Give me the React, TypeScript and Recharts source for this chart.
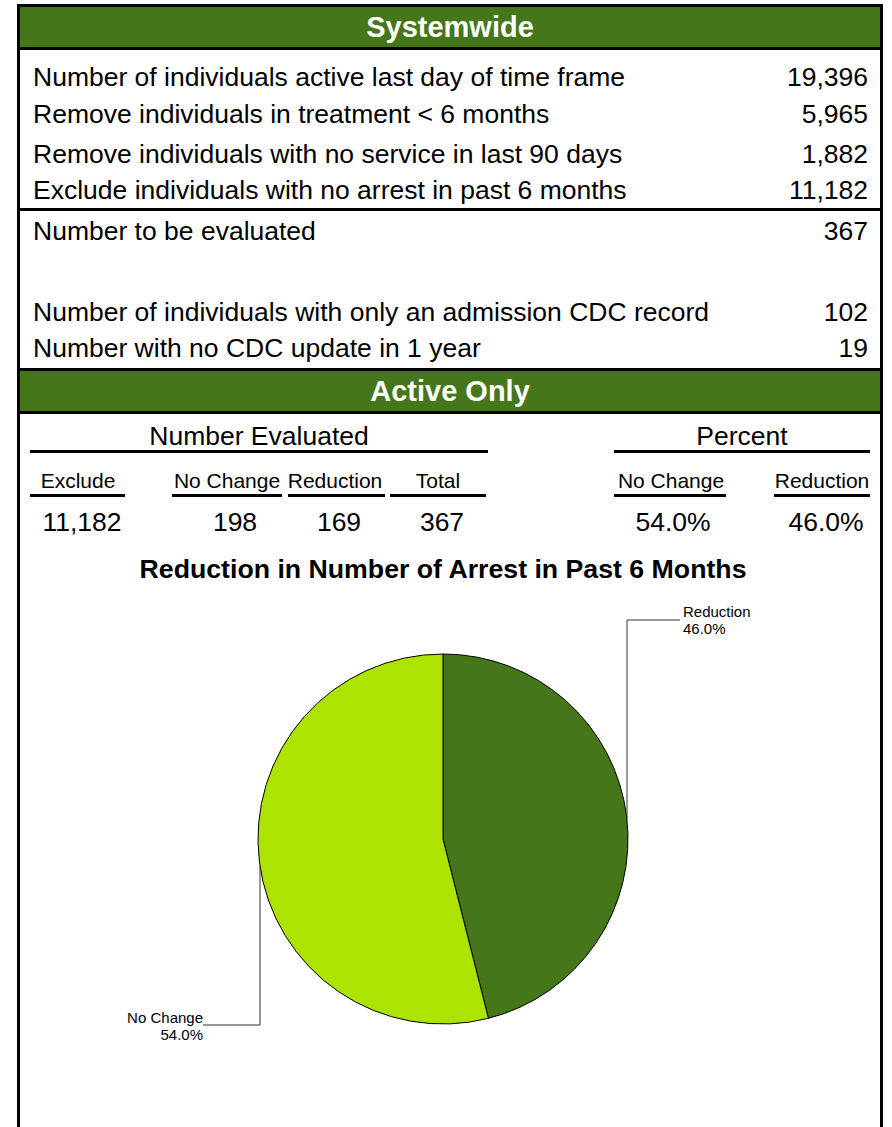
import React from 'react';
import { PieChart, Pie, Cell } from 'recharts';

// Systemwide funnel
const filterLabels = [
    'Number of individuals active last day of time frame',
    'Remove individuals in treatment < 6 months',
    'Remove individuals with no service in last 90 days',
    'Exclude individuals with no arrest in past 6 months',
];
const filterValues = [19396, 5965, 1882, 11182];
const evaluatedLabel = 'Number to be evaluated';
const evaluatedValue = 367;
const cdcLabels = [
    'Number of individuals with only an admission CDC record',
    'Number with no CDC update in 1 year',
];
const cdcValues = [102, 19];

// Active only table
const numberHeaders = ['Exclude', 'No Change', 'Reduction', 'Total'];
const numberValues = [11182, 198, 169, 367];
const percentHeaders = ['No Change', 'Reduction'];

// pie slices (clockwise from 12 o'clock)
const sliceNames = ['Reduction', 'No Change'];
const sliceValues = [169, 198];
const sliceColors = ['#46761a', '#ade300'];

const GREEN = '#46761a';
const FONT = '"Liberation Sans", Arial, sans-serif';

const fmt = (n: number) => n.toLocaleString('en-US');

const T = ({ x, y, anchor = 'start', size = 26.5, bold = false, color = '#000', children }: any) => {
    const style: React.CSSProperties = {
        position: 'absolute',
        top: y,
        whiteSpace: 'nowrap',
        fontSize: size,
        fontWeight: bold ? 'bold' : 'normal',
        color,
        lineHeight: 1,
        transform: anchor === 'middle' ? 'translate(-50%, -50%)' : 'translateY(-50%)',
    };
    if (anchor === 'end') style.right = 892 - x;
    else style.left = x;
    return <div style={style}>{children}</div>;
};

const Rule = ({ x1, x2, y, w = 3 }: any) => (
    <div style={{ position: 'absolute', left: x1, top: y, width: x2 - x1, height: w, background: '#000' }} />
);

const Header = ({ top, text }: any) => (
    <div
        style={{
            position: 'absolute',
            left: 20,
            top,
            width: 860,
            height: 46,
            boxSizing: 'border-box',
            borderTop: '3px solid #000',
            borderBottom: '3px solid #000',
            background: GREEN,
        }}
    >
        <T x={430} y={20} anchor="middle" size={29} bold color="#fff">{text}</T>
    </div>
);

const renderLabel = (props: any) => {
    const { cx, cy, outerRadius: r, midAngle, percent, name } = props;
    const right = Math.cos((-midAngle * Math.PI) / 180) >= 0;
    const pct = `${(percent * 100).toFixed(1)}%`;
    if (right) {
        const lx = cx + r - 1;
        const ly = cy - r - 34;
        return (
            <g>
                <polyline points={`${lx},${cy - 20} ${lx},${ly} ${cx + r + 52},${ly}`} fill="none" stroke="#333" strokeWidth={1} />
                <text x={cx + r + 55} y={cy - r - 43} fontSize={15} fontFamily={FONT} dominantBaseline="central" fill="#000">{name}</text>
                <text x={cx + r + 55} y={cy - r - 26} fontSize={15} fontFamily={FONT} dominantBaseline="central" fill="#000">{pct}</text>
            </g>
        );
    }
    const lx = cx - r + 2;
    const ly = cy + r + 1;
    return (
        <g>
            <polyline points={`${lx},${cy + 27} ${lx},${ly} ${cx - r - 55},${ly}`} fill="none" stroke="#333" strokeWidth={1} />
            <text x={cx - r - 55} y={cy + r - 7} fontSize={15} fontFamily={FONT} textAnchor="end" dominantBaseline="central" fill="#000">{name}</text>
            <text x={cx - r - 55} y={cy + r + 10} fontSize={15} fontFamily={FONT} textAnchor="end" dominantBaseline="central" fill="#000">{pct}</text>
        </g>
    );
};

export default function App() {
    const rowY = [77, 114, 154, 190];
    const cdcY = [312, 348];
    const headX = [78, 227, 335, 438];
    const headLines = [[30, 125], [172, 282], [288, 385], [390, 486]];
    const valX = [82, 235, 339, 442];
    const pctHeadX = [671, 822];
    const pctLines = [[614, 726], [774, 870]];
    const pctX = [673, 826];
    const total = sliceValues.reduce((a, b) => a + b, 0);
    const pieData = sliceNames.map((name, i) => ({ name, value: sliceValues[i] }));

    return (
        <div
            style={{
                position: 'absolute',
                left: 0,
                top: 0,
                width: 892,
                height: 1127,
                overflow: 'hidden',
                background: '#fff',
                fontFamily: FONT,
            }}
        >
            {/* outer frame */}
            <div
                style={{
                    position: 'absolute',
                    left: 17,
                    top: 4,
                    width: 866,
                    height: 1200,
                    border: '3px solid #000',
                    boxSizing: 'border-box',
                }}
            />
            <Header top={4} text="Systemwide" />

            {filterLabels.map((l, i) => (
                <React.Fragment key={l}>
                    <T x={33} y={rowY[i]}>{l}</T>
                    <T x={868} y={rowY[i]} anchor="end">{fmt(filterValues[i])}</T>
                </React.Fragment>
            ))}
            <Rule x1={20} x2={880} y={208} />
            <T x={33} y={231}>{evaluatedLabel}</T>
            <T x={868} y={231} anchor="end">{fmt(evaluatedValue)}</T>
            {cdcLabels.map((l, i) => (
                <React.Fragment key={l}>
                    <T x={33} y={cdcY[i]}>{l}</T>
                    <T x={868} y={cdcY[i]} anchor="end">{fmt(cdcValues[i])}</T>
                </React.Fragment>
            ))}

            <Header top={368} text="Active Only" />

            <T x={259} y={436} anchor="middle">Number Evaluated</T>
            <Rule x1={30} x2={488} y={450} />
            <T x={742} y={436} anchor="middle">Percent</T>
            <Rule x1={614} x2={870} y={450} />

            {numberHeaders.map((h, i) => (
                <React.Fragment key={h}>
                    <T x={headX[i]} y={480} anchor="middle" size={21}>{h}</T>
                    <Rule x1={headLines[i][0]} x2={headLines[i][1]} y={494} />
                    <T x={valX[i]} y={522} anchor="middle">{fmt(numberValues[i])}</T>
                </React.Fragment>
            ))}
            {percentHeaders.map((h, i) => (
                <React.Fragment key={'p' + h}>
                    <T x={pctHeadX[i]} y={480} anchor="middle" size={21}>{h}</T>
                    <Rule x1={pctLines[i][0]} x2={pctLines[i][1]} y={494} />
                    <T x={pctX[i]} y={522} anchor="middle">
                        {((sliceValues[sliceNames.indexOf(h)] / total) * 100).toFixed(1)}%
                    </T>
                </React.Fragment>
            ))}

            <T x={443} y={569} anchor="middle" size={26.7} bold>Reduction in Number of Arrest in Past 6 Months</T>

            <div style={{ position: 'absolute', left: 0, top: 590 }}>
                <PieChart width={892} height={500} margin={{ top: 0, right: 0, bottom: 0, left: 0 }}>
                    <Pie
                        data={pieData}
                        dataKey="value"
                        nameKey="name"
                        cx={443}
                        cy={249}
                        outerRadius={185}
                        startAngle={90}
                        endAngle={-270}
                        stroke="#000"
                        strokeWidth={1}
                        label={renderLabel}
                        labelLine={false}
                        isAnimationActive={false}
                    >
                        {pieData.map((d, i) => (
                            <Cell key={d.name} fill={sliceColors[i]} />
                        ))}
                    </Pie>
                </PieChart>
            </div>
        </div>
    );
}
